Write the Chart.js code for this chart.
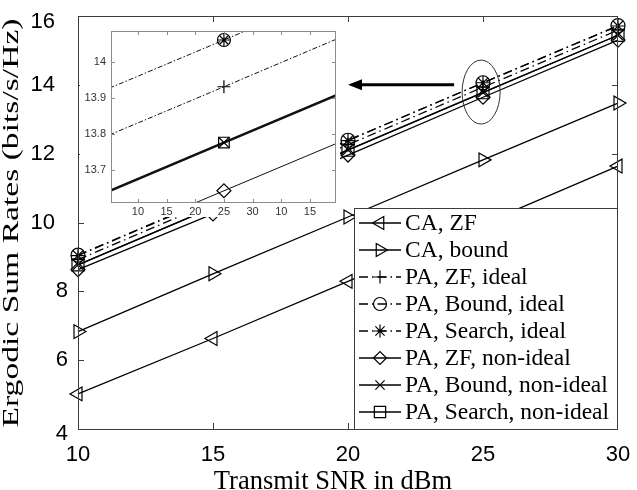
<!DOCTYPE html>
<html>
<head>
<meta charset="utf-8">
<script src="https://cdn.jsdelivr.net/npm/chart.js@4.4.1/dist/chart.umd.min.js"></script>
<style>
  html, body { margin: 0; padding: 0; background: #fff; }
  #wrap { position: relative; width: 637px; height: 490px; overflow: hidden; }
  #main { position: absolute; left: 0; top: 0; }
  #inset { position: absolute; left: 80px; top: 22px; }
</style>
</head>
<body>
<div id="wrap">
  <canvas id="main" width="637" height="490"></canvas>
  <canvas id="inset" width="260" height="195"></canvas>
</div>
<script>
// --- data ---
const snr = [10, 15, 20, 25, 30];
const caZF          = [5.02, 6.63, 8.29, 9.96, 11.64];
const caBound       = [6.83, 8.51, 10.16, 11.82, 13.47];
const paZFIdeal     = [8.92, 10.59, 12.26, 13.93, 15.59];
const paBoundIdeal  = [9.05, 10.72, 12.39, 14.06, 15.72];
const paSearchIdeal = [9.04, 10.71, 12.38, 14.06, 15.71];
const paZFNon       = [8.63, 10.25, 11.96, 13.64, 15.30];
const paBoundNon    = [8.77, 10.44, 12.11, 13.78, 15.44];
const paSearchNon   = [8.77, 10.44, 12.10, 13.77, 15.44];

const xTicks = [10, 15, 20, 25, 30];
const yTicks = [4, 6, 8, 10, 12, 14, 16];

// inset (zoom of the x=25 cluster), x is a tick index
const insetPos        = [0, 4, 8];
const insetTickPos    = [1, 2, 3, 4, 5, 6, 7];
const insetTickLabels = ["10", "15", "20", "25", "30", "10", "15"];
const insetYTicks     = [13.7, 13.8, 13.9, 14];
const insetIdeal      = [13.927, 14.061, 14.196];  // Bound / Search, ideal
const insetZFIdeal    = [13.797, 13.931, 14.066];
const insetNonIdeal   = [13.641, 13.776, 13.910];  // Bound / Search, non-ideal
const insetZFNon      = [13.507, 13.642, 13.776];

const DASHDOT = [9, 4, 1.5, 4];

const series = [
  { label: "CA, ZF",                data: caZF,          style: "triangle", rot: -90, dash: [] },
  { label: "CA, bound",             data: caBound,       style: "triangle", rot: 90,  dash: [] },
  { label: "PA, ZF, ideal",         data: paZFIdeal,     style: "cross",    rot: 0,   dash: DASHDOT },
  { label: "PA, Bound, ideal",      data: paBoundIdeal,  style: "circle",   rot: 0,   dash: DASHDOT },
  { label: "PA, Search, ideal",     data: paSearchIdeal, style: "star",     rot: 0,   dash: DASHDOT },
  { label: "PA, ZF, non-ideal",     data: paZFNon,       style: "rectRot",  rot: 0,   dash: [] },
  { label: "PA, Bound, non-ideal",  data: paBoundNon,    style: "crossRot", rot: 0,   dash: [] },
  { label: "PA, Search, non-ideal", data: paSearchNon,   style: "rect",     rot: 0,   dash: [] },
];

const radiusOf = (s) => s === "triangle" ? 8 : (s === "rect" ? 8.5 : 7);

function drawMarker(ctx, style, rot, r, x, y) {
  ctx.save();
  ctx.setLineDash([]);
  ctx.fillStyle = "rgba(0,0,0,0)";
  ctx.strokeStyle = "#000";
  ctx.lineWidth = 1.2;
  Chart.helpers.drawPoint(ctx, { pointStyle: style, rotation: rot, radius: r, borderWidth: 1.2 }, x, y);
  ctx.restore();
}

const mainDeco = {
  id: "mainDeco",
  beforeDraw(chart) {
    const ctx = chart.ctx;
    ctx.save();
    ctx.fillStyle = "#fff";
    ctx.fillRect(0, 0, chart.width, chart.height);
    ctx.restore();
  },
  afterDatasetsDraw(chart) {
    const { ctx, chartArea: a, scales: { x, y } } = chart;
    ctx.save();
    // axes box + inward ticks
    ctx.strokeStyle = "#3c3c3c";
    ctx.lineWidth = 1;
    ctx.strokeRect(a.left + 0.5, a.top + 0.5, a.right - a.left - 1, a.bottom - a.top);
    ctx.beginPath();
    xTicks.slice(1, -1).forEach(v => {
      const px = Math.round(x.getPixelForValue(v)) + 0.5;
      ctx.moveTo(px, a.bottom); ctx.lineTo(px, a.bottom - 6);
      ctx.moveTo(px, a.top); ctx.lineTo(px, a.top + 6);
    });
    yTicks.slice(1, -1).forEach(v => {
      const py = Math.round(y.getPixelForValue(v)) + 0.5;
      ctx.moveTo(a.left, py); ctx.lineTo(a.left + 6, py);
      ctx.moveTo(a.right, py); ctx.lineTo(a.right - 6, py);
    });
    ctx.stroke();

    // ellipse round the x=25 cluster
    ctx.strokeStyle = "#333";
    ctx.lineWidth = 1;
    ctx.beginPath();
    ctx.ellipse(x.getPixelForValue(24.93), y.getPixelForValue(13.79), 19, 32, 0, 0, Math.PI * 2);
    ctx.stroke();

    // arrow towards the inset
    const ax0 = x.getPixelForValue(23.93), ax1 = x.getPixelForValue(20.0);
    const ay = y.getPixelForValue(14.0);
    ctx.strokeStyle = "#000";
    ctx.lineWidth = 3;
    ctx.beginPath();
    ctx.moveTo(ax0, ay); ctx.lineTo(ax1 + 12, ay);
    ctx.stroke();
    ctx.fillStyle = "#000";
    ctx.beginPath();
    ctx.moveTo(ax1, ay); ctx.lineTo(ax1 + 14, ay - 5.5); ctx.lineTo(ax1 + 14, ay + 5.5);
    ctx.closePath(); ctx.fill();

    // tick labels
    ctx.fillStyle = "#000";
    ctx.font = "22px 'Liberation Sans', Arial, sans-serif";
    ctx.textBaseline = "middle";
    ctx.textAlign = "center";
    xTicks.forEach(v => ctx.fillText(String(v), x.getPixelForValue(v), 455));
    ctx.textAlign = "right";
    yTicks.forEach(v => {
      let py = y.getPixelForValue(v);
      if (v === 16) py += 6;
      if (v === 4) py += 5;
      ctx.fillText(String(v), v >= 10 ? 55 : 68, py);
    });

    // axis titles
    ctx.font = "26.5px 'Liberation Serif', 'Times New Roman', serif";
    ctx.textAlign = "center";
    ctx.textBaseline = "alphabetic";
    ctx.fillText("Transmit SNR in dBm", 333, 489);

    const yt = "Ergodic Sum Rates (bits/s/Hz)";
    ctx.font = "22.5px 'Liberation Serif', 'Times New Roman', serif";
    ctx.translate(18, 223);
    ctx.rotate(-Math.PI / 2);
    ctx.scale(409 / ctx.measureText(yt).width, 1);
    ctx.fillText(yt, 0, 0);
    ctx.restore();

    // legend
    ctx.save();
    const lw = 264, lh = 221;
    const lx = a.right - lw, ly = a.bottom - lh;
    ctx.fillStyle = "#fff";
    ctx.fillRect(lx, ly, lw, lh);
    ctx.strokeStyle = "#3c3c3c";
    ctx.lineWidth = 1;
    ctx.strokeRect(lx + 0.5, ly + 0.5, lw - 1, lh);
    ctx.font = "23.5px 'Liberation Serif', 'Times New Roman', serif";
    ctx.textBaseline = "middle";
    ctx.textAlign = "left";
    series.forEach((s, i) => {
      const ry = ly + 15 + i * 27;
      ctx.strokeStyle = "#000";
      ctx.lineWidth = 1.3;
      ctx.setLineDash(s.dash);
      ctx.beginPath();
      ctx.moveTo(lx + 5, ry); ctx.lineTo(lx + 47, ry);
      ctx.stroke();
      ctx.setLineDash([]);
      drawMarker(ctx, s.style, s.rot, radiusOf(s.style) - 0.5, lx + 26, ry);
      ctx.fillStyle = "#000";
      ctx.fillText(s.label, lx + 51, ry + 1);
    });
    ctx.restore();
  }
};

new Chart(document.getElementById("main"), {
  type: "line",
  data: {
    datasets: series.map(s => ({
      label: s.label,
      data: snr.map((v, i) => ({ x: v, y: s.data[i] })),
      borderColor: "#000",
      borderWidth: 1.3,
      borderDash: s.dash,
      pointStyle: s.style,
      pointRotation: s.rot,
      pointRadius: radiusOf(s.style),
      pointBorderWidth: 1.2,
      pointBorderColor: "#000",
      pointBackgroundColor: "rgba(0,0,0,0)",
      fill: false,
      tension: 0,
      clip: false,
    })),
  },
  options: {
    responsive: false, animation: false, devicePixelRatio: 1,
    layout: { padding: { left: 78, top: 16, right: 19, bottom: 61 } },
    plugins: { legend: { display: false }, tooltip: { enabled: false } },
    scales: {
      x: { type: "linear", min: 10, max: 30, display: false },
      y: { type: "linear", min: 4, max: 16, display: false },
    },
  },
  plugins: [mainDeco],
});

// --- inset (pasted zoom, opaque white panel incl. its tick labels) ---
const insetSeries = [
  { data: insetIdeal,    width: 1,   dash: [5, 2, 1.5, 2], marks: ["circle", "star"],   r: 6.5 },
  { data: insetZFIdeal,  width: 1,   dash: [5, 2, 1.5, 2], marks: ["cross"],            r: 6.5 },
  { data: insetNonIdeal, width: 2.5, dash: [],             marks: ["rect", "crossRot"], r: 7.5 },
  { data: insetZFNon,    width: 1,   dash: [],             marks: ["rectRot"],          r: 7 },
];

const insetDeco = {
  id: "insetDeco",
  beforeDraw(chart) {
    const ctx = chart.ctx;
    ctx.save();
    ctx.fillStyle = "#fff";
    ctx.fillRect(0, 0, chart.width, chart.height);
    ctx.restore();
  },
  afterDatasetsDraw(chart) {
    const { ctx, chartArea: a, scales: { x, y } } = chart;
    ctx.save();
    insetSeries.forEach(s => {
      const px = x.getPixelForValue(insetPos[1]), py = y.getPixelForValue(s.data[1]);
      s.marks.forEach(m => drawMarker(ctx, m, 0, m === "star" ? s.r - 0.5 : s.r, px, py));
    });
    ctx.strokeStyle = "#8c8c8c";
    ctx.lineWidth = 1;
    ctx.strokeRect(a.left + 0.5, a.top + 0.5, a.right - a.left - 1, a.bottom - a.top - 1);
    ctx.beginPath();
    insetTickPos.forEach(v => {
      const px = Math.round(x.getPixelForValue(v)) + 0.5;
      ctx.moveTo(px, a.bottom); ctx.lineTo(px, a.bottom - 4);
      ctx.moveTo(px, a.top); ctx.lineTo(px, a.top + 4);
    });
    insetYTicks.forEach(v => {
      const py = Math.round(y.getPixelForValue(v)) + 0.5;
      ctx.moveTo(a.left, py); ctx.lineTo(a.left + 4, py);
      ctx.moveTo(a.right, py); ctx.lineTo(a.right - 4, py);
    });
    ctx.stroke();
    ctx.fillStyle = "#333";
    ctx.font = "11px 'Liberation Sans', Arial, sans-serif";
    ctx.textBaseline = "middle";
    ctx.textAlign = "center";
    insetTickPos.forEach((v, i) => ctx.fillText(insetTickLabels[i], x.getPixelForValue(v), a.bottom + 9));
    ctx.textAlign = "right";
    insetYTicks.forEach(v => ctx.fillText(String(v), a.left - 5, y.getPixelForValue(v)));
    ctx.restore();
  }
};

new Chart(document.getElementById("inset"), {
  type: "line",
  data: {
    datasets: insetSeries.map(s => ({
      data: insetPos.map((v, i) => ({ x: v, y: s.data[i] })),
      borderColor: "#111",
      borderWidth: s.width,
      borderDash: s.dash,
      pointRadius: 0,
      fill: false,
      tension: 0,
    })),
  },
  options: {
    responsive: false, animation: false, devicePixelRatio: 1,
    layout: { padding: { left: 31, top: 9, right: 4, bottom: 14 } },
    plugins: { legend: { display: false }, tooltip: { enabled: false } },
    scales: {
      x: { type: "linear", min: 0.06, max: 7.91, display: false },
      y: { type: "linear", min: 13.608, max: 14.086, display: false },
    },
  },
  plugins: [insetDeco],
});
</script>
</body>
</html>
